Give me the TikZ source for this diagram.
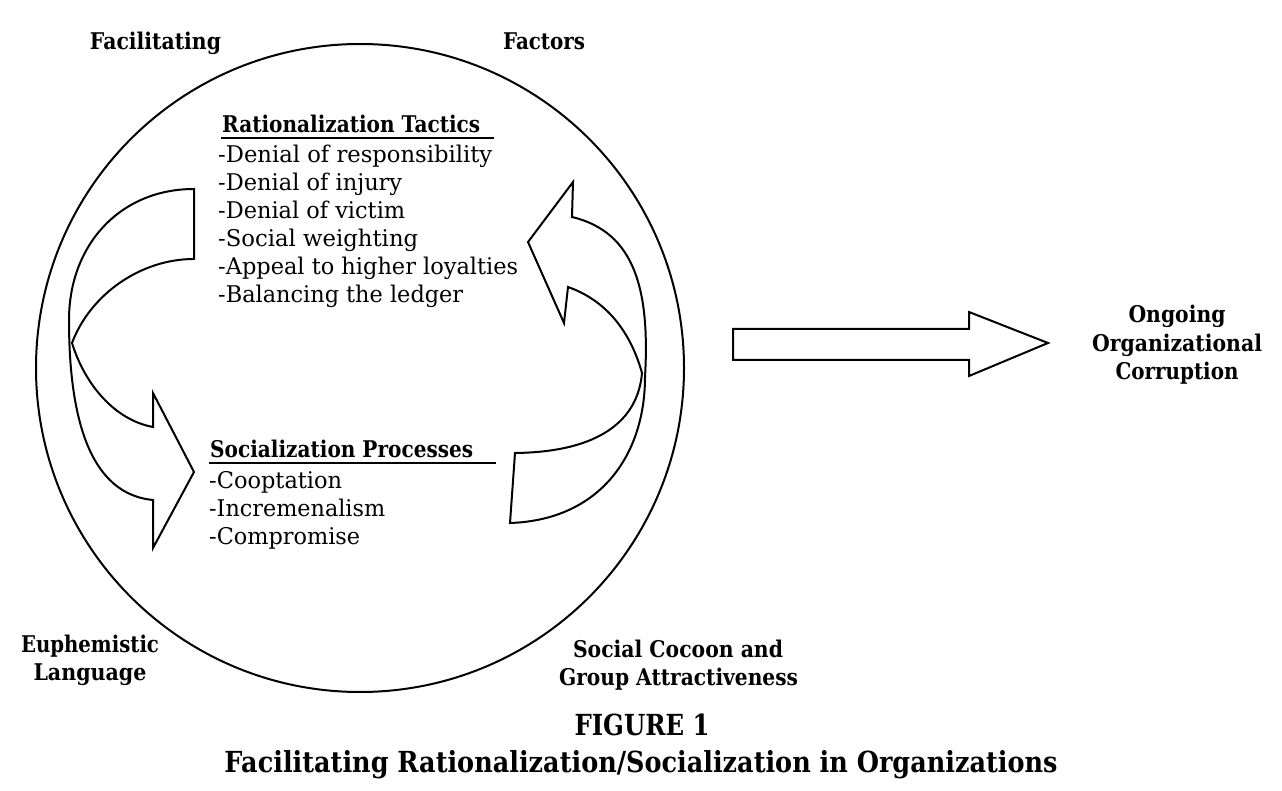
\documentclass[tikz,border=0pt]{standalone}
\usepackage{fontspec}
\setmainfont{DejaVu Serif}
\usepackage{graphicx}
\newcommand\fitw[2]{\resizebox{#1pt}{\height}{#2}}
\begin{document}
\begin{tikzpicture}[x=1pt,y=-1pt,
  blk/.style={draw=black,line width=2pt,line join=miter,fill=white},
  lab/.style={anchor=base,inner sep=0pt,font=\bfseries\fontsize{23}{28}\selectfont},
  itm/.style={anchor=base west,inner sep=0pt,font=\fontsize{23}{28}\selectfont},
  hdg/.style={anchor=base west,inner sep=0pt,font=\bfseries\fontsize{23}{28}\selectfont},
  ttl/.style={anchor=base,inner sep=0pt,font=\bfseries\fontsize{29}{34}\selectfont},
  uline/.style={line width=1.5pt}]
\useasboundingbox (0,0) rectangle (1282,791);

% big circle
\draw[line width=2pt] (360,368) circle[radius=324];

% left curved arrow
\path[blk] (194,189) .. controls (120,189) and (69,245) .. (69,320)
  .. controls (69,440) and (100,495) .. (153,500)
  -- (153,548) -- (194,472) -- (153,393) -- (153,427)
  .. controls (115,420) and (85,385) .. (72,343)
  .. controls (90,295) and (140,259) .. (194,259) -- cycle;

% right curved arrow
\path[blk] (510,523) .. controls (600,520) and (645,455) .. (645,377)
  .. controls (650,290) and (635,232) .. (572,217)
  -- (573,182) -- (528,242) -- (564,323) -- (568,287)
  .. controls (605,300) and (630,330) .. (642,373)
  .. controls (638,420) and (600,452) .. (515,453) -- cycle;

% straight block arrow
\path[blk] (733,329) -- (969,329) -- (969,312) -- (1048,343) -- (969,376)
  -- (969,360) -- (733,360) -- cycle;

% top labels
\node[lab] (fac1) at (155.5,50) {\fitw{131}{Facilitating}};
\node[lab] (fac2) at (544,50) {\fitw{82}{Factors}};

% rationalization tactics
\node[hdg] (rt) at (222,133) {\fitw{258}{Rationalization Tactics}};
\coordinate (rtl) at (221,138);
\coordinate (rtr) at (494,138);
\draw[uline] (rtl) -- (rtr);
\node[itm] (r1) at (218,163) {\fitw{274}{-Denial of responsibility}};
\node[itm] (r2) at (218,191) {\fitw{184}{-Denial of injury}};
\node[itm] (r3) at (218,219) {\fitw{187}{-Denial of victim}};
\node[itm] (r4) at (218,247) {\fitw{200}{-Social weighting}};
\node[itm] (r5) at (218,275) {\fitw{300}{-Appeal to higher loyalties}};
\node[itm] (r6) at (218,303) {\fitw{245}{-Balancing the ledger}};

% socialization processes
\node[hdg] (sp) at (210,457) {\fitw{263}{Socialization Processes}};
\coordinate (spl) at (209,463);
\coordinate (spr) at (496,463);
\draw[uline] (spl) -- (spr);
\node[itm] (s1) at (209,488) {\fitw{133}{-Cooptation}};
\node[itm] (s2) at (209,516) {\fitw{176}{-Incremenalism}};
\node[itm] (s3) at (209,544) {\fitw{151}{-Compromise}};

% outcome
\node[lab] (o1) at (1177,323) {\fitw{97}{Ongoing}};
\node[lab] (o2) at (1177,352) {\fitw{170}{Organizational}};
\node[lab] (o3) at (1177,380) {\fitw{123}{Corruption}};

% bottom labels
\node[lab] (e1) at (90,652) {\fitw{138}{Euphemistic}};
\node[lab] (e2) at (90,680) {\fitw{113}{Language}};
\node[lab] (g1) at (678,657) {\fitw{210}{Social Cocoon and}};
\node[lab] (g2) at (678.5,685) {\fitw{239}{Group Attractiveness}};

% caption
\node[ttl] (fig) at (642,735) {\fitw{135}{FIGURE 1}};
\node[ttl] (cap) at (641,772) {\fitw{833}{Facilitating Rationalization/Socialization in Organizations}};
\end{tikzpicture}
\end{document}
